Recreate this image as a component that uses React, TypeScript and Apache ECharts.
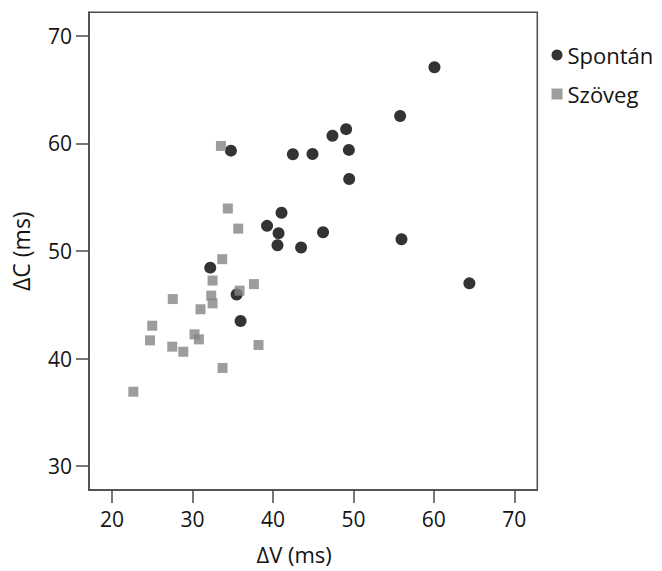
import React, { useEffect, useRef } from "react";
import * as echarts from "echarts";

const tickValuesX = [20, 30, 40, 50, 60, 70];
const tickValuesY = [30, 40, 50, 60, 70];

const spontanX = [34.78, 42.48, 44.92, 47.4, 49.1, 49.44, 49.48, 41.07, 39.27, 40.7, 46.23, 40.57, 43.5, 32.21, 35.49, 35.98, 60.08, 55.81, 55.98, 64.42];
const spontanY = [59.33, 59.0, 59.02, 60.72, 61.33, 59.4, 56.7, 53.56, 52.34, 51.65, 51.74, 50.53, 50.32, 48.45, 45.95, 43.49, 67.09, 62.56, 51.09, 46.99];

const szovegX = [33.54, 34.4, 35.69, 33.7, 32.5, 37.64, 35.85, 27.55, 32.33, 32.5, 31.0, 25.0, 24.72, 30.26, 30.8, 27.49, 28.86, 38.21, 33.74, 22.65];
const szovegY = [59.77, 53.95, 52.08, 49.24, 47.25, 46.92, 46.31, 45.53, 45.85, 45.13, 44.58, 43.05, 41.69, 42.25, 41.78, 41.1, 40.63, 41.26, 39.12, 36.91];

const FONT = "'Open Sans', sans-serif";
const AXIS_COLOR = "#4a4a4a";
const TEXT_COLOR = "#141414";

export default function App() {
  const ref = useRef<HTMLDivElement>(null);

  useEffect(() => {
    if (!ref.current) return;
    const chart = echarts.init(ref.current, null, { renderer: "svg" });
    const pairs = (xs: number[], ys: number[]) => xs.map((x, i) => [x, ys[i]]);
    chart.setOption({
      animation: false,
      textStyle: { fontFamily: FONT },
      grid: {
        left: 89,
        top: 12.3,
        right: 662 - 537.3,
        bottom: 571 - 490,
        outerBoundsMode: "none",
        containLabel: false,
        show: true,
        borderColor: AXIS_COLOR,
        borderWidth: 1.5,
        backgroundColor: "transparent",
      },
      legend: {
        orient: "vertical",
        left: 551.5,
        top: 44,
        padding: 0,
        itemWidth: 11,
        itemHeight: 11,
        itemGap: 17,
        textStyle: { fontFamily: FONT, fontSize: 22, color: TEXT_COLOR },
        data: [
          { name: "Spontán", icon: "circle" },
          { name: "Szöveg", icon: "rect" },
        ],
      },
      xAxis: {
        type: "value",
        min: 17.14,
        max: 72.86,
        name: "ΔV (ms)",
        nameLocation: "middle",
        nameGap: 52,
        nameTextStyle: { fontFamily: FONT, fontSize: 22, lineHeight: 24, color: TEXT_COLOR, padding: [0, 38, 0, 0] },
        axisLine: { show: true, lineStyle: { color: AXIS_COLOR, width: 1.5 } },
        axisTick: { show: true, length: 13, customValues: tickValuesX, lineStyle: { color: AXIS_COLOR, width: 1.5 } },
        axisLabel: { customValues: tickValuesX, margin: 18, fontFamily: FONT, fontSize: 21, color: TEXT_COLOR },
        splitLine: { show: false },
      },
      yAxis: {
        type: "value",
        min: 27.77,
        max: 72.2,
        name: "ΔC (ms)",
        nameLocation: "middle",
        nameRotate: 90,
        nameGap: 56,
        nameTextStyle: { fontFamily: FONT, fontSize: 23, lineHeight: 24, color: TEXT_COLOR },
        axisLine: { show: true, lineStyle: { color: AXIS_COLOR, width: 1.5 } },
        axisTick: { show: true, length: 13, customValues: tickValuesY, lineStyle: { color: AXIS_COLOR, width: 1.5 } },
        axisLabel: { customValues: tickValuesY, margin: 17, fontFamily: FONT, fontSize: 21, color: TEXT_COLOR },
        splitLine: { show: false },
      },
      series: [
        {
          name: "Spontán",
          type: "scatter",
          symbol: "circle",
          symbolSize: 12,
          itemStyle: { color: "#000" },
          data: pairs(spontanX, spontanY),
        },
        {
          name: "Szöveg",
          type: "scatter",
          symbol: "rect",
          symbolSize: 10,
          itemStyle: { color: "#858585" },
          data: pairs(szovegX, szovegY),
        },
      ],
    });
    return () => chart.dispose();
  }, []);

  return <div ref={ref} style={{ width: 662, height: 571, position: "absolute", left: 0, top: 0 }} />;
}
